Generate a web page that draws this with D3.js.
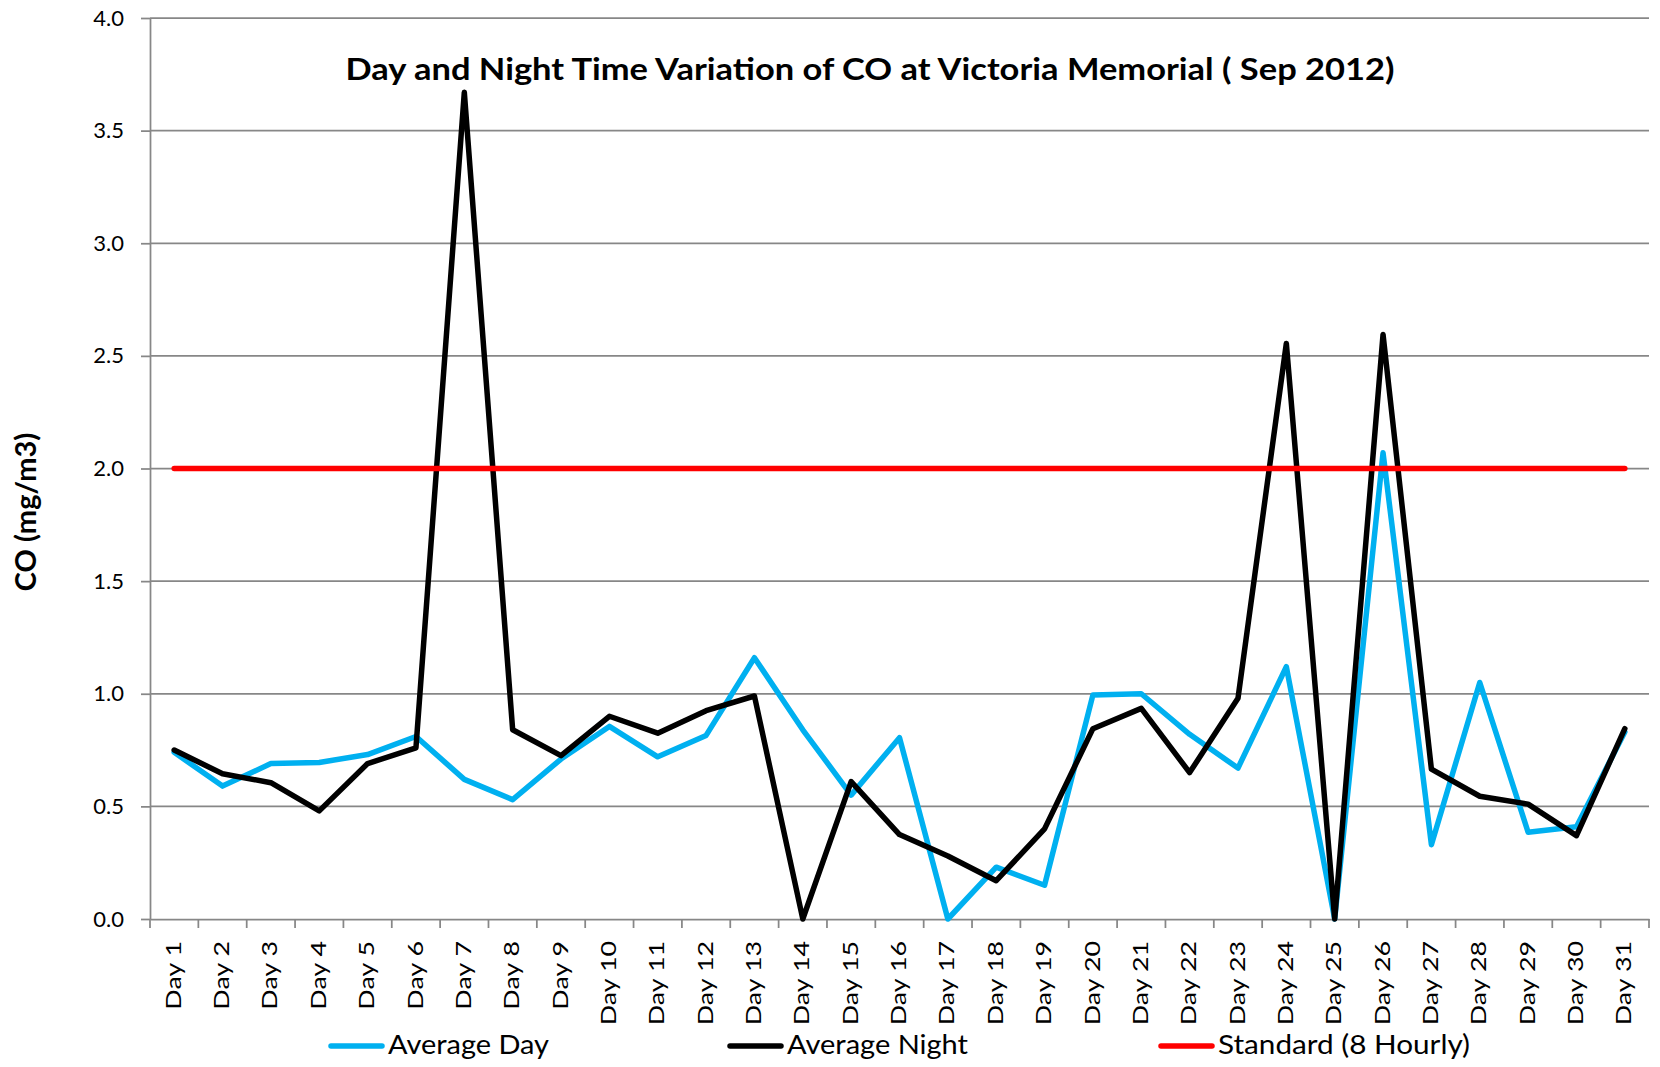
<!DOCTYPE html>
<html>
<head>
    <meta charset="utf-8">
    <style>
        body { margin: 0; background: #fff; }
        text { font-family: Lato, "Open Sans", sans-serif; fill: #000; }
        .grid line { stroke: #878787; stroke-width: 1.75px; }
        .axis path, .axis line { stroke: #878787; stroke-width: 1.75px; }
        .axis text { font-size: 22px; }
        .series { fill: none; stroke-width: 5.5px; stroke-linejoin: round; stroke-linecap: round; }
        .title { font-weight: bold; font-size: 30.5px; }
        .ytitle { font-weight: bold; font-size: 29px; }
        .legend text { font-size: 26.5px; }
    </style>
</head>
<body>
<div id="chart"></div>
<script src="https://cdn.jsdelivr.net/npm/d3@7"></script>
<script>

    var days = ["Day 1", "Day 2", "Day 3", "Day 4", "Day 5", "Day 6", "Day 7", "Day 8",
        "Day 9", "Day 10", "Day 11", "Day 12", "Day 13", "Day 14", "Day 15", "Day 16",
        "Day 17", "Day 18", "Day 19", "Day 20", "Day 21", "Day 22", "Day 23", "Day 24",
        "Day 25", "Day 26", "Day 27", "Day 28", "Day 29", "Day 30", "Day 31"];

    var averageDay = [0.74, 0.59, 0.69, 0.695, 0.73, 0.81, 0.62, 0.53, 0.71, 0.855,
        0.72, 0.815, 1.16, 0.84, 0.55, 0.805, 0.0, 0.23, 0.15, 0.995,
        1.0, 0.82, 0.67, 1.12, 0.0, 2.07, 0.33, 1.05, 0.385, 0.41, 0.83];

    var averageNight = [0.75, 0.645, 0.605, 0.48, 0.69, 0.76, 3.67, 0.84, 0.725, 0.9,
        0.825, 0.925, 0.99, 0.0, 0.61, 0.375, 0.28, 0.17, 0.4, 0.845,
        0.935, 0.65, 0.98, 2.555, 0.0, 2.595, 0.665, 0.545, 0.51, 0.37, 0.845];

    var standard8h = [2.0, 2.0, 2.0, 2.0, 2.0, 2.0, 2.0, 2.0, 2.0, 2.0,
        2.0, 2.0, 2.0, 2.0, 2.0, 2.0, 2.0, 2.0, 2.0, 2.0,
        2.0, 2.0, 2.0, 2.0, 2.0, 2.0, 2.0, 2.0, 2.0, 2.0, 2.0];

    var yTicks = [0, 0.5, 1.0, 1.5, 2.0, 2.5, 3.0, 3.5, 4.0];

    var series = [
        {name: "Average Day", values: averageDay, color: "#00b0f0"},
        {name: "Average Night", values: averageNight, color: "#000000"},
        {name: "Standard (8 Hourly)", values: standard8h, color: "#ff0000"}
    ];

    var width = 1660, height = 1067;
    var margin = {top: 18, right: 11, bottom: 148, left: 150};

    var svg = d3.select("#chart").append("svg")
        .attr("width", width)
        .attr("height", height);

    var x = d3.scaleBand()
        .domain(days)
        .range([margin.left, width - margin.right]);

    var y = d3.scaleLinear()
        .domain([0, 4])
        .range([height - margin.bottom, margin.top]);

    var cx = function (d) {
        return x(d) + x.bandwidth() / 2;
    };

    // gridlines
    svg.append("g")
        .attr("class", "grid")
        .selectAll("line")
        .data(yTicks.slice(1))
        .enter().append("line")
        .attr("x1", x.range()[0])
        .attr("x2", x.range()[1])
        .attr("y1", function (d) { return y(d); })
        .attr("y2", function (d) { return y(d); });

    // y axis
    svg.append("g")
        .attr("class", "axis")
        .attr("transform", "translate(" + margin.left + ",0)")
        .call(d3.axisLeft(y).tickValues(yTicks).tickFormat(d3.format(".1f"))
            .tickSize(9).tickPadding(17).tickSizeOuter(0));

    // x axis (labels at centres, ticks between categories)
    var xAxis = svg.append("g")
        .attr("class", "axis")
        .attr("transform", "translate(0," + y(0) + ")")
        .call(d3.axisBottom(x).tickSize(0).tickSizeOuter(0));

    xAxis.selectAll(".tick text")
        .attr("x", 0)
        .attr("y", 0)
        .attr("dy", "0.3em")
        .attr("text-anchor", "end")
        .attr("transform", "translate(0,22) rotate(-90) scale(1.22,1)");

    xAxis.selectAll("line.sep")
        .data(days.map(function (d) { return x(d); }).concat([x.range()[1]]))
        .enter().append("line")
        .attr("class", "sep")
        .attr("x1", function (d) { return d; })
        .attr("x2", function (d) { return d; })
        .attr("y1", 0)
        .attr("y2", 9);

    // lines
    var line = d3.line()
        .x(function (d, i) { return cx(days[i]); })
        .y(function (d) { return y(d); });

    svg.append("g").selectAll("path.series")
        .data(series)
        .enter().append("path")
        .attr("class", "series")
        .attr("stroke", function (d) { return d.color; })
        .attr("d", function (d) { return line(d.values); });

    // title
    svg.append("text")
        .attr("class", "title")
        .attr("x", 870)
        .attr("y", 80)
        .attr("text-anchor", "middle")
        .attr("textLength", 1049)
        .attr("lengthAdjust", "spacingAndGlyphs")
        .text("Day and Night Time Variation of CO at Victoria Memorial ( Sep 2012)");

    // y axis title
    svg.append("text")
        .attr("class", "ytitle")
        .attr("text-anchor", "middle")
        .attr("transform", "translate(36,512) rotate(-90)")
        .text("CO (mg/m3)");

    // legend
    var legendPos = [329, 728, 1159];
    var legendTextLen = [161, 181, 252];

    var legend = svg.append("g")
        .attr("class", "legend")
        .selectAll("g")
        .data(series)
        .enter().append("g")
        .attr("transform", function (d, i) {
            return "translate(" + legendPos[i] + ",1046)";
        });

    legend.append("line")
        .attr("x1", 2)
        .attr("x2", 53)
        .attr("stroke", function (d) { return d.color; })
        .attr("stroke-width", 5.5)
        .attr("stroke-linecap", "round");

    legend.append("text")
        .attr("x", 59)
        .attr("y", 8)
        .attr("textLength", function (d, i) { return legendTextLen[i]; })
        .attr("lengthAdjust", "spacingAndGlyphs")
        .text(function (d) { return d.name; });

</script>
</body>
</html>
